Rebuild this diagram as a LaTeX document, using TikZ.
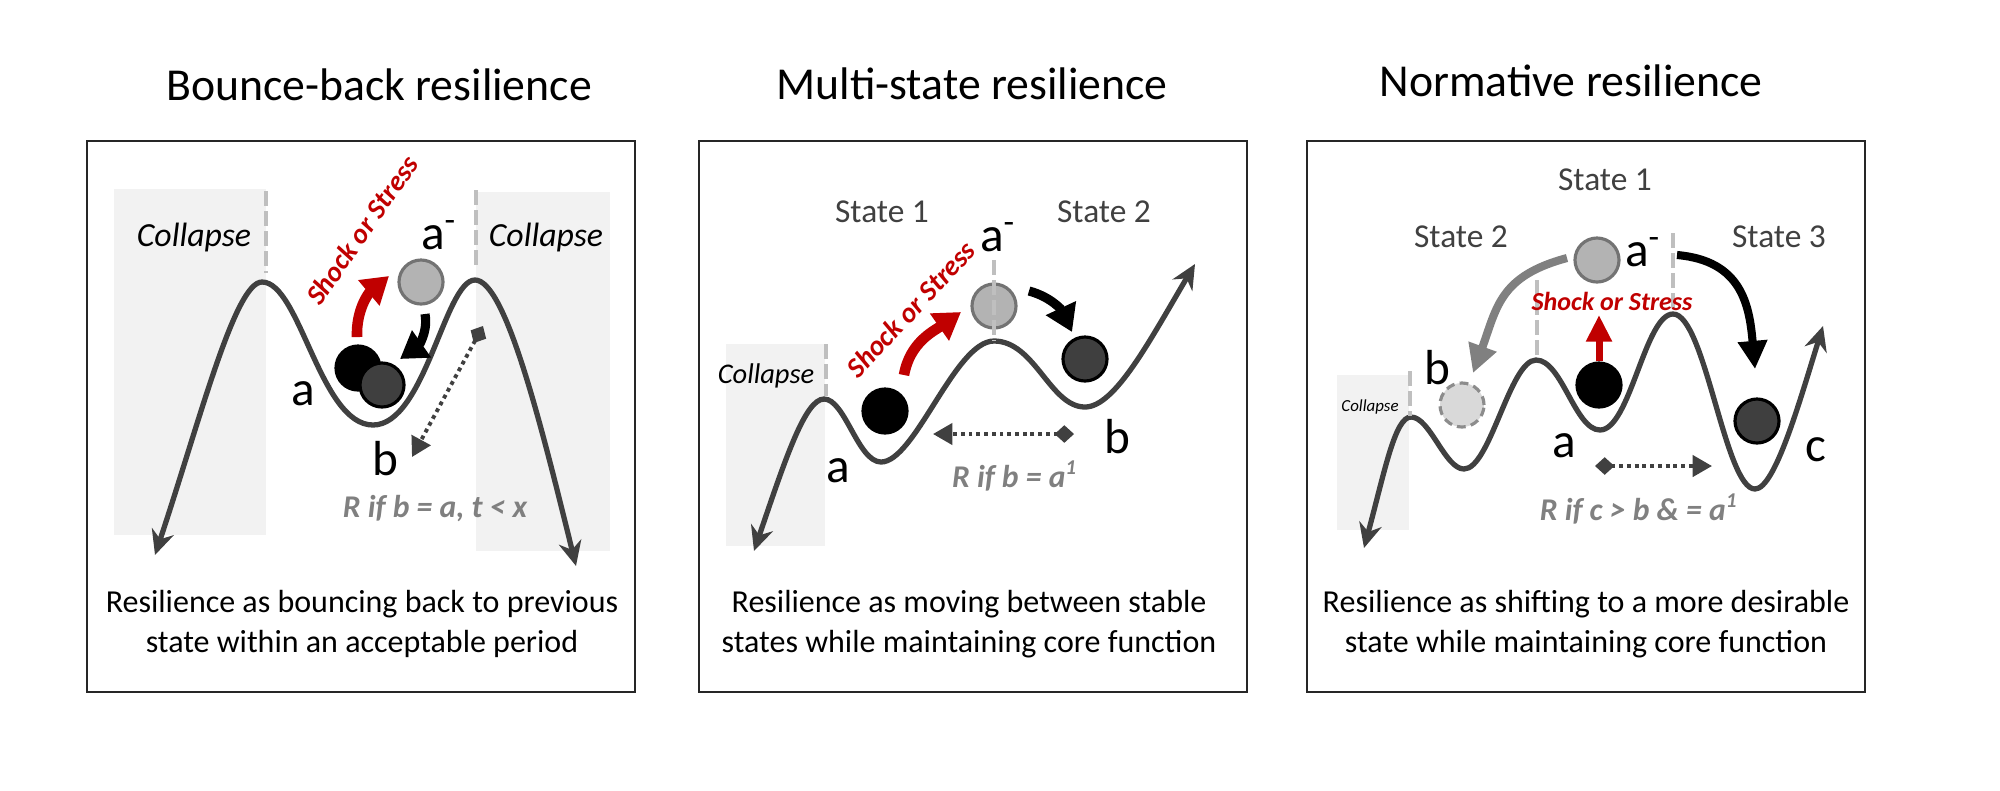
\documentclass[tikz,border=0pt]{standalone}
\usepackage{fontspec}
\setmainfont{Carlito}
\usetikzlibrary{arrows.meta}

\definecolor{landgray}{HTML}{404040}
\definecolor{shockred}{HTML}{C00000}
\definecolor{zonegray}{HTML}{F2F2F2}
\definecolor{dashgray}{HTML}{BFBFBF}
\definecolor{rulegray}{HTML}{808080}
\definecolor{ballgray}{HTML}{B3B3B3}
\definecolor{balldark}{HTML}{3F3F3F}

\begin{document}
\begin{tikzpicture}[x=0.01cm, y=0.01cm,
		panel/.style={draw=black!85, line width=0.8pt},
		zone/.style={fill=zonegray},
		peakline/.style={draw=dashgray, line width=1.1pt, dash pattern=on 4.2pt off 1.5pt},
		land/.style={draw=landgray, line width=1.5pt, arrows={Stealth[length=7pt,width=6.5pt]-Stealth[length=7pt,width=6.5pt]}},
		ball/.style={circle, minimum size=0.44cm, inner sep=0pt, line width=0.9pt},
		shifted/.style={ball, fill=ballgray, draw=black!55},
		home/.style={ball, fill=black, draw=black},
		moved/.style={ball, fill=balldark, draw=black},
		ghost/.style={ball, fill=black!15, draw=black!45, dash pattern=on 2.5pt off 1.5pt},
		push/.style={line width=3pt, -{Triangle[length=7.5pt,width=9pt]}},
		slide/.style={line width=2.3pt, -{Triangle[length=8pt,width=8pt]}},
		gap/.style={draw=landgray, line width=1.1pt, dash pattern=on 1.1pt off 1.1pt, arrows={Diamond[length=5.5pt,width=5pt]-Triangle[length=5.5pt,width=6pt]}},
		heading/.style={anchor=base, font=\fontsize{13}{15}\selectfont},
		caption/.style={align=center, font=\fontsize{9.1}{11.4}\selectfont},
		letter/.style={font=\fontsize{14}{14}\selectfont},
		statelbl/.style={text=landgray, font=\fontsize{9.5}{10}\selectfont},
		shocklbl/.style={text=shockred, font=\bfseries\itshape\fontsize{8}{8}\selectfont},
		rule/.style={text=rulegray, font=\bfseries\itshape\fontsize{9}{9}\selectfont},
		zonelbl/.style={font=\itshape\fontsize{#1}{#1}\selectfont},
	]
	\useasboundingbox (0,0) rectangle (2000,-790);

	\node[heading] (title1) at (379,-100) {Bounce-back resilience};
	\node[heading] (title2) at (972,-99) {Multi-state resilience};
	\node[heading] (title3) at (1571,-96) {Normative resilience};

	\foreach \l/\r in {87/635, 699/1247, 1307/1865}
		\draw[panel] (\l,-141) rectangle (\r,-692);

	\foreach \l/\t/\r/\b in {114/189/266/535, 476/192/610/551, 726/344/825/546, 1337/375/1409/530}
		\fill[zone] (\l,-\t) rectangle (\r,-\b);

	% landscapes
	\draw[land] (155,-555) .. controls (200,-420) and (235,-282) .. (262,-282)
		.. controls (300,-282) and (320,-425) .. (373,-425)
		.. controls (425,-425) and (445,-280) .. (475,-280)
		.. controls (505,-280) and (540,-420) .. (576,-566);
	\draw[land] (754,-551) .. controls (785,-460) and (805,-399) .. (824,-399)
		.. controls (845,-399) and (858,-462) .. (881,-462)
		.. controls (915,-462) and (955,-341) .. (994,-341)
		.. controls (1035,-341) and (1050,-407) .. (1085,-407)
		.. controls (1115,-407) and (1150,-340) .. (1195,-264);
	\draw[land] (1364,-548) .. controls (1385,-470) and (1395,-417) .. (1411,-417)
		.. controls (1430,-417) and (1445,-469) .. (1464,-469)
		.. controls (1490,-469) and (1510,-360) .. (1536,-360)
		.. controls (1562,-360) and (1575,-430) .. (1600,-430)
		.. controls (1630,-430) and (1645,-314) .. (1673,-314)
		.. controls (1705,-314) and (1725,-489) .. (1755,-489)
		.. controls (1775,-489) and (1800,-400) .. (1823,-326);

	% balls
	\node[shifted] (p1top) at (421,-282) {};
	\node[home] (p1home) at (358,-368) {};
	\node[moved] (p1back) at (382,-385) {};
	\node[home] (p2home) at (885,-411) {};
	\node[shifted] (p2top) at (994,-306) {};
	\node[moved] (p2new) at (1085,-359) {};
	\node[shifted] (p3top) at (1597,-260) {};
	\node[home] (p3home) at (1599,-385) {};
	\node[ghost] (p3old) at (1462,-405) {};
	\node[moved] (p3new) at (1757,-421) {};

	\foreach \x/\t/\b in {266/191/273, 476/190/270, 826/344/396, 994/260/341, 1410/371/416, 1537/280/358, 1673/233/312}
		\draw[peakline] (\x,-\t) -- (\x,-\b);

	% arrows
	\coordinate (p1shockS) at (357,-337);
	\coordinate (p1shockE) at (389,-276);
	\coordinate (p1fallS) at (425,-314);
	\coordinate (p1fallE) at (400,-359);
	\coordinate (p1gapS) at (483,-326);
	\coordinate (p1gapE) at (412,-457);
	\coordinate (p2shockS) at (904,-375);
	\coordinate (p2shockE) at (961,-312);
	\coordinate (p2fallS) at (1029,-291);
	\coordinate (p2fallE) at (1072,-332);
	\coordinate (p2gapS) at (1074,-434);
	\coordinate (p2gapE) at (933,-434);
	\coordinate (p3shockE) at (1599,-315);
	\coordinate (p3backS) at (1567,-258);
	\coordinate (p3backE) at (1473,-373);
	\coordinate (p3upS) at (1677,-255);
	\coordinate (p3upE) at (1755,-369);
	\coordinate (p3gapS) at (1595,-466);
	\coordinate (p3gapE) at (1712,-466);

	\draw[push, shockred] (p1shockS) to[out=92, in=220] (p1shockE);
	\draw[push, line width=2.6pt] (p1fallS) to[out=-80, in=35] (p1fallE);
	\draw[gap] (p1gapS) -- (p1gapE);
	\draw[push, shockred] (p2shockS) to[out=80, in=215] (p2shockE);
	\draw[push, line width=2.6pt] (p2fallS) to[out=-15, in=115] (p2fallE);
	\draw[gap] (p2gapS) -- (p2gapE);
	\draw[shockred, line width=2pt, -{Triangle[length=7.6pt,width=7pt]}] (p3home.north) -- (p3shockE);
	\draw[slide, rulegray, looseness=1.2] (p3backS) to[out=195, in=70] (p3backE);
	\draw[slide, looseness=1.2] (p3upS) to[out=-5, in=95] (p3upE);
	\draw[gap] (p3gapS) -- (p3gapE);

	% labels
	\node[zonelbl=9.6] (p1zoneL) at (194,-237) {Collapse};
	\node[zonelbl=9.6] (p1zoneR) at (546,-237) {Collapse};
	\node[shocklbl, rotate=55] (p1shock) at (362,-230) {Shock or Stress};
	\node[letter] (p1ltop) at (439,-235) {a\textsuperscript{-}};
	\node[letter] (p1la) at (303,-394) {a};
	\node[letter] (p1lb) at (385,-459) {b};
	\node[rule] (p1rule) at (435,-509) {R if b = a, t < x};
	\node[caption] (p1text) at (362,-624) {Resilience as bouncing back to previous\\state within an acceptable period};

	\node[statelbl] (p2state1) at (882,-212) {State 1};
	\node[statelbl] (p2state2) at (1104,-212) {State 2};
	\node[zonelbl=8.1] (p2zone) at (766,-376) {Collapse};
	\node[shocklbl, rotate=47] (p2shock) at (911,-309) {Shock or Stress};
	\node[letter] (p2ltop) at (998,-237) {a\textsuperscript{-}};
	\node[letter] (p2la) at (838,-471) {a};
	\node[letter] (p2lb) at (1117,-437) {b};
	\node[rule] (p2rule) at (1015,-476) {R if b = a\textsuperscript{1}};
	\node[caption] (p2text) at (969,-624) {Resilience as moving between stable\\states while maintaining core function};

	\node[statelbl] (p3state1) at (1605,-180) {State 1};
	\node[statelbl] (p3state2) at (1461,-237) {State 2};
	\node[statelbl] (p3state3) at (1779,-237) {State 3};
	\node[zonelbl=4.8] (p3zone) at (1370,-407) {Collapse};
	\node[shocklbl, font=\bfseries\itshape\fontsize{7.4}{8}\selectfont] (p3shock) at (1612,-301) {Shock or Stress};
	\node[letter] (p3ltop) at (1643,-252) {a\textsuperscript{-}};
	\node[letter] (p3lb) at (1437,-368) {b};
	\node[letter] (p3la) at (1564,-446) {a};
	\node[letter] (p3lc) at (1816,-450) {c};
	\node[rule] (p3rule) at (1639,-509) {R if c > b \& = a\textsuperscript{1}};
	\node[caption] (p3text) at (1586,-624) {Resilience as shifting to a more desirable\\state while maintaining core function};
\end{tikzpicture}
\end{document}
